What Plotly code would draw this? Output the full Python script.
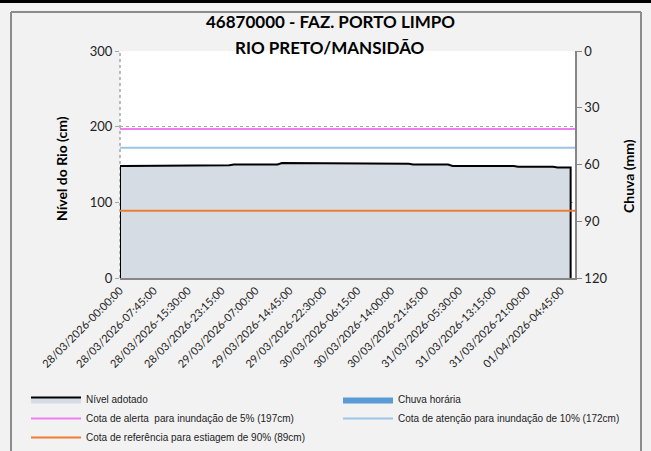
import pandas as pd
import plotly.graph_objects as go

# ---------------- data ----------------
title_line1 = "46870000 - FAZ. PORTO LIMPO"
title_line2 = "RIO PRETO/MANSIDÃO"
start_time = "2026-03-28 00:00"

# Nível adotado (cm), hourly from 28/03/2026 00:00
nivel_cm = [
    148, 148, 148, 148, 148, 148, 148, 148, 148, 148, 148,
    149, 149, 149, 149, 149, 149, 149, 149, 149, 149, 149, 149, 149, 149, 149,
    150, 150, 150, 150, 150, 150, 150, 150, 150, 150, 150,
    152, 152, 152, 152, 152, 152, 152, 152, 152, 152, 152, 152, 152, 152, 152, 152, 152, 152, 152,
    151, 151, 151, 151, 151, 151, 151, 151, 151, 151, 151,
    150, 150, 150, 150, 150, 150, 150, 150, 150,
    148, 148, 148, 148, 148, 148, 148, 148, 148, 148, 148, 148, 148, 148, 148,
    147, 147, 147, 147, 147, 147, 147, 147, 147,
    146, 146, 146, 146,
]

# Chuva horária (mm) – no rain recorded in the period
chuva_mm = [
    0, 0, 0, 0, 0, 0, 0, 0, 0, 0, 0, 0, 0, 0, 0, 0, 0, 0, 0, 0, 0, 0, 0, 0, 0, 0,
    0, 0, 0, 0, 0, 0, 0, 0, 0, 0, 0, 0, 0, 0, 0, 0, 0, 0, 0, 0, 0, 0, 0, 0, 0, 0,
    0, 0, 0, 0, 0, 0, 0, 0, 0, 0, 0, 0, 0, 0, 0, 0, 0, 0, 0, 0, 0, 0, 0, 0, 0, 0,
    0, 0, 0, 0, 0, 0, 0, 0, 0, 0, 0, 0, 0, 0, 0, 0, 0, 0, 0, 0, 0, 0, 0, 0, 0, 0,
]

cota_alerta = 197
cota_atencao = 172
cota_referencia = 89

tick_labels = [
    "28/03/2026-00:00:00", "28/03/2026-07:45:00", "28/03/2026-15:30:00",
    "28/03/2026-23:15:00", "29/03/2026-07:00:00", "29/03/2026-14:45:00",
    "29/03/2026-22:30:00", "30/03/2026-06:15:00", "30/03/2026-14:00:00",
    "30/03/2026-21:45:00", "31/03/2026-05:30:00", "31/03/2026-13:15:00",
    "31/03/2026-21:00:00", "01/04/2026-04:45:00",
]

legend_names = [
    "Nível adotado",
    "Chuva horária",
    "Cota de alerta  para inundação de 5% (197cm)",
    "Cota de atenção para inundação de 10% (172cm)",
    "Cota de referência para estiagem de 90% (89cm)",
]

# ---------------- figure ----------------
times = list(pd.date_range(start_time, periods=len(nivel_cm), freq="h"))
tick_vals = [pd.to_datetime(s, format="%d/%m/%Y-%H:%M:%S") for s in tick_labels]
x_start = times[0]
x_end = times[0] + pd.Timedelta(hours=104)

# extra tick marks (Excel tick interval differs from label interval)
n_minor = 17
step = (tick_vals[-1] - tick_vals[0]) / n_minor
minor_vals = [tick_vals[0] + k * step for k in range(n_minor + 1)]

fig = go.Figure()

fig.add_trace(go.Scatter(
    x=[times[0]] + times + [times[-1]],
    y=[0] + nivel_cm + [0],
    mode="lines", fill="toself", fillcolor="#D6DCE4",
    line=dict(color="black", width=2),
    name=legend_names[0], legend="legend",
))
fig.add_trace(go.Scatter(
    x=times, y=chuva_mm, yaxis="y2",
    mode="lines", fill="tozeroy", fillcolor="#5B9BD5",
    line=dict(color="#5B9BD5", width=0),
    name=legend_names[1], legend="legend2",
))
fig.add_trace(go.Scatter(
    x=[x_start, x_end], y=[cota_alerta, cota_alerta],
    mode="lines", line=dict(color="#F07EF0", width=2),
    name=legend_names[2], legend="legend",
))
fig.add_trace(go.Scatter(
    x=[x_start, x_end], y=[cota_atencao, cota_atencao],
    mode="lines", line=dict(color="#9DC3E6", width=2),
    name=legend_names[3], legend="legend2",
))
fig.add_trace(go.Scatter(
    x=[x_start, x_end], y=[cota_referencia, cota_referencia],
    mode="lines", line=dict(color="#ED7D31", width=2),
    name=legend_names[4], legend="legend",
))

L, R, T, B = 120, 76, 51, 173
W, H = 651, 451
pw, ph = W - L - R, H - T - B


def px(xp):
    return (xp - L) / pw


def py(yp):
    return (H - B - yp) / ph


legend_font = dict(size=10, family="Liberation Sans Narrow, Liberation Sans, Arial", color="#222222")

fig.update_layout(
    width=W, height=H,
    margin=dict(l=L, r=R, t=T, b=B, pad=0, autoexpand=False),
    paper_bgcolor="#F2F2F2",
    plot_bgcolor="white",
    showlegend=True,
    font=dict(family="Lato, Open Sans, sans-serif", color="#222222"),
    xaxis=dict(
        type="date", range=[x_start, x_end], automargin=False,
        tickvals=tick_vals, ticktext=tick_labels, tickangle=-45,
        ticks="", ticklen=0, showgrid=False,
        showline=True, linecolor="#868686", linewidth=2,
        tickfont=dict(size=11, family="Lato", color="#222222"),
        zeroline=False,
    ),
    xaxis2=dict(
        type="date", range=[x_start, x_end], overlaying="x", anchor="y",
        side="bottom", tickvals=minor_vals, ticks="outside", ticklen=5,
        tickcolor="#868686", tickwidth=1, showticklabels=False,
        showgrid=False, showline=False, zeroline=False, automargin=False,
    ),
    yaxis=dict(
        range=[0, 300], tickvals=[0, 100, 200, 300], automargin=False,
        showgrid=True, gridcolor="#A6A6A6", griddash="dot", gridwidth=1,
        ticks="outside", ticklen=4, tickcolor="#A6A6A6",
        showline=False, zeroline=False,
        tickfont=dict(size=13, family="Lato", color="#222222"),
    ),
    yaxis2=dict(
        range=[120, 0], tickvals=[0, 30, 60, 90, 120], overlaying="y",
        side="right", showgrid=False, zeroline=False, automargin=False,
        showline=True, linecolor="#868686", linewidth=1.5,
        ticks="outside", ticklen=5, tickcolor="#868686",
        tickfont=dict(size=13, family="Lato", color="#222222"),
    ),
    legend=dict(
        orientation="v", x=px(26), y=py(385), xanchor="left", yanchor="top",
        font=legend_font, bgcolor="rgba(0,0,0,0)", tracegroupgap=0,
        itemwidth=50,
    ),
    legend2=dict(
        orientation="v", x=px(338), y=py(385), xanchor="left", yanchor="top",
        font=legend_font, bgcolor="rgba(0,0,0,0)", tracegroupgap=0,
        itemwidth=50,
    ),
    shapes=[
        dict(type="rect", xref="paper", yref="paper", x0=px(0), x1=px(651),
             y0=py(3), y1=py(0), fillcolor="black", line=dict(width=0), layer="above"),
        dict(type="line", xref="paper", yref="paper", x0=px(11), x1=px(11),
             y0=py(12), y1=py(451), line=dict(color="#8C8C8C", width=2)),
        dict(type="line", xref="paper", yref="paper", x0=px(641), x1=px(641),
             y0=py(12), y1=py(451), line=dict(color="#8C8C8C", width=2)),
        dict(type="line", xref="paper", yref="paper", x0=px(11), x1=px(641),
             y0=py(12), y1=py(12), line=dict(color="#8C8C8C", width=2)),
        dict(type="line", xref="paper", yref="paper", x0=0, x1=0, y0=0, y1=1,
             line=dict(color="#A6A6A6", width=1.5, dash="dot"), layer="below"),
    ],
    annotations=[
        dict(text="<b>" + title_line1 + "</b>", xref="paper", yref="paper",
             x=px(330), y=py(22), showarrow=False, xanchor="center", yanchor="middle",
             font=dict(size=17, family="Lato", color="black")),
        dict(text="<b>" + title_line2 + "</b>", xref="paper", yref="paper",
             x=px(330), y=py(47), showarrow=False, xanchor="center", yanchor="middle",
             font=dict(size=17, family="Lato", color="black")),
        dict(text="<b>Nível do Rio (cm)</b>", xref="paper", yref="paper",
             x=px(61), y=py(168), showarrow=False, textangle=-90,
             xanchor="center", yanchor="middle",
             font=dict(size=14, family="Lato", color="black")),
        dict(text="<b>Chuva (mm)</b>", xref="paper", yref="paper",
             x=px(628), y=py(176), showarrow=False, textangle=-90,
             xanchor="center", yanchor="middle",
             font=dict(size=14, family="Lato", color="black")),
    ],
)

fig.write_html(
    "out.html",
    config={"displayModeBar": False},
    post_script="document.body.style.margin='0';document.body.style.overflow='hidden';",
)
